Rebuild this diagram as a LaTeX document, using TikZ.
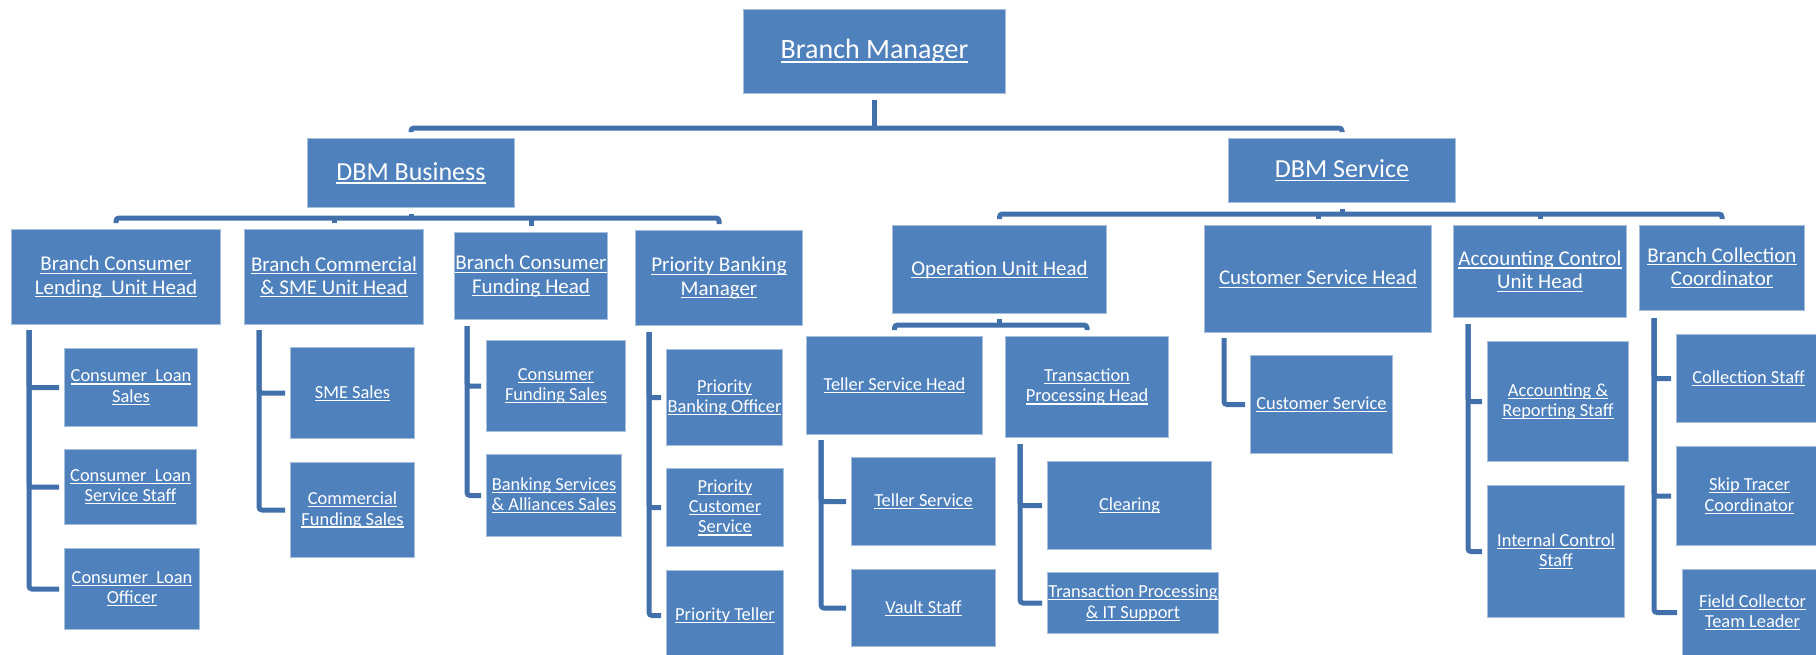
\documentclass[tikz,border=0pt]{standalone}
\usepackage{fontspec}
\setmainfont{Carlito}
\definecolor{ocBlue}{HTML}{4F81BD}
\definecolor{ocEdge}{HTML}{A7BEDC}
\definecolor{ocLine}{HTML}{4170AA}
\newsavebox{\ulbox}
\newcommand{\undl}[1]{\sbox\ulbox{#1}\rlap{\rule[-0.14em]{\wd\ulbox}{0.06em}}\usebox\ulbox}
\tikzset{
  ocBase/.style={
    anchor=north west,
    align=center,
    inner sep=0pt,
    line width=0.5pt,
    draw=ocEdge,
    fill=ocBlue,
    text=white
  },
  ocTop/.style={
    ocBase,
    font=\fontsize{14pt}{16pt}\selectfont
  },
  ocMid/.style={
    ocBase,
    font=\fontsize{13pt}{15pt}\selectfont
  },
  ocHead/.style={
    ocBase,
    font=\fontsize{10.5pt}{11.6pt}\selectfont
  },
  ocStaff/.style={
    ocBase,
    font=\fontsize{9.2pt}{10.2pt}\selectfont
  },
  ocLink/.style={
    line width=2.5pt,
    color=ocLine,
    rounded corners=1.5pt
  }
}
\begin{document}
\begin{tikzpicture}[x=0.5pt, y=-0.5pt]
    \useasboundingbox (0,0) rectangle (1816,654);
    \clip (0,0) rectangle (1816,654);

    % Top levels
    \node (bm) [ocTop, minimum width=131pt, minimum height=42pt] at (743,9) {\undl{Branch Manager}};
    \node (dbmb) [ocMid, minimum width=103.5pt, minimum height=34.5pt] at (307,138) {\undl{DBM Business}};
    \node (dbms) [ocMid, minimum width=113.5pt, minimum height=32pt] at (1228,138) {\undl{DBM Service}};

    % Unit heads (business)
    \node (bclh) [ocHead, minimum width=104.5pt, minimum height=47.5pt] at (11,229) {\undl{Branch Consumer}\\\undl{Lending\ \ Unit Head}};
    \node (bcsme) [ocHead, minimum width=89.5pt, minimum height=47.5pt] at (244,229) {\undl{Branch Commercial}\\\undl{\& SME Unit Head}};
    \node (bcfh) [ocHead, minimum width=76.5pt, minimum height=43.5pt] at (454,232) {\undl{Branch Consumer}\\\undl{Funding Head}};
    \node (pbm) [ocHead, minimum width=83.5pt, minimum height=47.5pt] at (635,230) {\undl{Priority Banking}\\\undl{Manager}};

    % Unit heads (service)
    \node (ouh) [ocHead, minimum width=107pt, minimum height=44pt] at (892,225) {\undl{Operation Unit Head}};
    \node (csh) [ocHead, minimum width=113.5pt, minimum height=53.5pt] at (1204,225) {\undl{Customer Service Head}};
    \node (acuh) [ocHead, minimum width=86.5pt, minimum height=46pt] at (1453,225) {\undl{Accounting Control}\\\undl{Unit Head}};
    \node (bcc) [ocHead, minimum width=82.5pt, minimum height=42.5pt] at (1639,225) {\undl{Branch Collection}\\\undl{Coordinator}};

    % Staff (business)
    \node (cls) [ocStaff, minimum width=66.5pt, minimum height=39pt] at (64,348) {\undl{Consumer\ \ Loan}\\\undl{Sales}};
    \node (clss) [ocStaff, minimum width=66pt, minimum height=37.5pt] at (64,449) {\undl{Consumer\ \ Loan}\\\undl{Service Staff}};
    \node (clo) [ocStaff, minimum width=67.5pt, minimum height=40.5pt] at (64,548) {\undl{Consumer\ \ Loan}\\\undl{Officer}};
    \node (smes) [ocStaff, minimum width=62pt, minimum height=45.5pt] at (290,347) {\undl{SME Sales}};
    \node (cfs) [ocStaff, minimum width=62pt, minimum height=47.5pt] at (290,462) {\undl{Commercial}\\\undl{Funding Sales}};
    \node (cfsl) [ocStaff, minimum width=69.5pt, minimum height=45.5pt] at (486,340) {\undl{Consumer}\\\undl{Funding Sales}};
    \node (bsas) [ocStaff, minimum width=67.5pt, minimum height=41pt] at (486,454) {\undl{Banking Services}\\\undl{\& Alliances Sales}};
    \node (pbo) [ocStaff, minimum width=58pt, minimum height=48pt] at (666,349) {\undl{Priority}\\\undl{Banking Officer}};
    \node (pcs) [ocStaff, minimum width=58.5pt, minimum height=39pt] at (666,468) {\undl{Priority}\\\undl{Customer}\\\undl{Service}};
    \node (pt) [ocStaff, minimum width=58.5pt, minimum height=45pt] at (666,570) {\undl{Priority Teller}};

    % Staff (service)
    \node (tsh) [ocStaff, minimum width=88pt, minimum height=49pt] at (806,336) {\undl{Teller Service Head}};
    \node (tph) [ocStaff, minimum width=81.5pt, minimum height=50.5pt] at (1005,336) {\undl{Transaction}\\\undl{Processing Head}};
    \node (ts) [ocStaff, minimum width=72pt, minimum height=44pt] at (851,457) {\undl{Teller Service}};
    \node (vs) [ocStaff, minimum width=72pt, minimum height=38.5pt] at (851,569) {\undl{Vault Staff}};
    \node (clr) [ocStaff, minimum width=82pt, minimum height=44pt] at (1047,461) {\undl{Clearing}};
    \node (tpit) [ocStaff, minimum width=85.5pt, minimum height=30.5pt] at (1047,572) {\undl{Transaction Processing}\\\undl{\& IT Support}};
    \node (cs) [ocStaff, minimum width=71pt, minimum height=49pt] at (1250,355) {\undl{Customer Service}};
    \node (ars) [ocStaff, minimum width=70.5pt, minimum height=60pt] at (1487,341) {\undl{Accounting \&}\\\undl{Reporting Staff}};
    \node (ics) [ocStaff, minimum width=68.5pt, minimum height=66pt] at (1487,485) {\undl{Internal Control}\\\undl{Staff}};
    \node (cst) [ocStaff, minimum width=72pt, minimum height=44pt] at (1676,334) {\undl{Collection Staff}};
    \node (stc) [ocStaff, minimum width=73pt, minimum height=49.5pt] at (1676,446) {\undl{Skip Tracer}\\\undl{Coordinator}};
    \node (fctl) [ocStaff, minimum width=70pt, minimum height=43pt] at (1682,569) {\undl{Field Collector}\\\undl{Team Leader}};

    % Buses
    \coordinate (busTop) at ([yshift=-17pt]bm.south);
    \coordinate (busB) at ([yshift=-5pt]dbmb.south);
    \coordinate (busS) at ([yshift=-5.5pt]dbms.south);
    \coordinate (busO) at ([yshift=-5.5pt]ouh.south);

    \draw [ocLink] ([yshift=-3pt]bm.south) -- (busTop);
    \draw [ocLink] ([yshift=3pt]dbmb.north) |- (busTop) -| ([yshift=3pt]dbms.north);

    \draw [ocLink] ([yshift=-3pt]dbmb.south) -- (busB);
    \draw [ocLink] ([yshift=3pt]bclh.north) |- (busB) -| ([yshift=3pt]pbm.north);
    \draw [ocLink] ([yshift=3pt]bcsme.north) -- (bcsme.north |- busB);
    \draw [ocLink] ([yshift=3pt]bcfh.north) -- (bcfh.north |- busB);

    \draw [ocLink] ([yshift=-3pt]dbms.south) -- (busS);
    \draw [ocLink] ([yshift=3pt]ouh.north) |- (busS) -| ([yshift=3pt]bcc.north);
    \draw [ocLink] ([yshift=3pt]csh.north) -- (csh.north |- busS);
    \draw [ocLink] ([yshift=3pt]acuh.north) -- (acuh.north |- busS);

    \draw [ocLink] ([yshift=-2.5pt]ouh.south) -- (busO);
    \draw [ocLink] ([yshift=3pt]tsh.north) |- (busO) -| ([yshift=3pt]tph.north);

    % Side brackets
    \draw [ocLink] ([shift={(9pt,-2.5pt)}]bclh.south west) |- ([xshift=-2.5pt]cls.west);
    \draw [ocLink] ([shift={(9pt,-2.5pt)}]bclh.south west) |- ([xshift=-2.5pt]clss.west);
    \draw [ocLink] ([shift={(9pt,-2.5pt)}]bclh.south west) |- ([xshift=-2.5pt]clo.west);

    \draw [ocLink] ([shift={(7.5pt,-2.5pt)}]bcsme.south west) |- ([xshift=-2.5pt]smes.west);
    \draw [ocLink] ([shift={(7.5pt,-2.5pt)}]bcsme.south west) |- ([xshift=-2.5pt]cfs.west);

    \draw [ocLink] ([shift={(6.5pt,-3pt)}]bcfh.south west) |- ([xshift=-2.5pt]cfsl.west);
    \draw [ocLink] ([shift={(6.5pt,-3pt)}]bcfh.south west) |- ([xshift=-2.5pt]bsas.west);

    \draw [ocLink] ([shift={(7pt,-3pt)}]pbm.south west) |- ([xshift=-2.5pt]pbo.west);
    \draw [ocLink] ([shift={(7pt,-3pt)}]pbm.south west) |- ([xshift=-2.5pt]pcs.west);
    \draw [ocLink] ([shift={(7pt,-3pt)}]pbm.south west) |- ([xshift=-2.5pt]pt.west);

    \draw [ocLink] ([shift={(7.5pt,-2.5pt)}]tsh.south west) |- ([xshift=-2.5pt]ts.west);
    \draw [ocLink] ([shift={(7.5pt,-2.5pt)}]tsh.south west) |- ([xshift=-2.5pt]vs.west);

    \draw [ocLink] ([shift={(7.5pt,-3pt)}]tph.south west) |- ([xshift=-2.5pt]clr.west);
    \draw [ocLink] ([shift={(7.5pt,-3pt)}]tph.south west) |- ([xshift=-2.5pt]tpit.west);

    \draw [ocLink] ([shift={(10pt,-2.5pt)}]csh.south west) |- ([xshift=-2.5pt]cs.west);

    \draw [ocLink] ([shift={(7.5pt,-3pt)}]acuh.south west) |- ([xshift=-2.5pt]ars.west);
    \draw [ocLink] ([shift={(7.5pt,-3pt)}]acuh.south west) |- ([xshift=-2.5pt]ics.west);

    \draw [ocLink] ([shift={(7.5pt,-3.5pt)}]bcc.south west) |- ([xshift=-2.5pt]cst.west);
    \draw [ocLink] ([shift={(7.5pt,-3.5pt)}]bcc.south west) |- ([xshift=-2.5pt]stc.west);
    \draw [ocLink] ([shift={(7.5pt,-3.5pt)}]bcc.south west) |- ([xshift=-2.5pt]fctl.west);
\end{tikzpicture}
\end{document}
